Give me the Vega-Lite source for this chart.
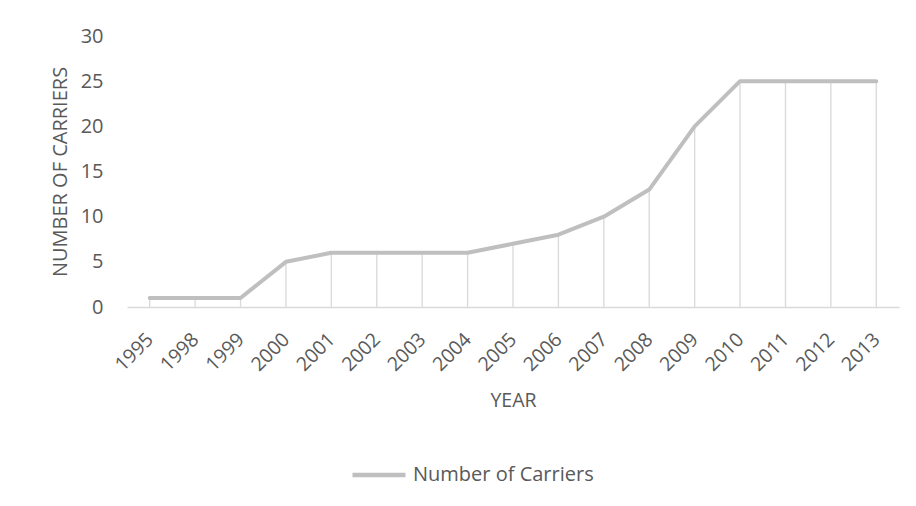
{
  "$schema": "https://vega.github.io/schema/vega-lite/v6.json",
  "autosize": {"type": "none"},
  "width": 772,
  "height": 271,
  "padding": {"left": 127, "top": 36, "right": 17, "bottom": 199},
  "background": "white",
  "config": {"view": {"stroke": null}, "font": "Open Sans"},
  "data": {
    "values": [
      {"year": "1995", "carriers": 1, "series": "Number of Carriers"},
      {"year": "1998", "carriers": 1, "series": "Number of Carriers"},
      {"year": "1999", "carriers": 1, "series": "Number of Carriers"},
      {"year": "2000", "carriers": 5, "series": "Number of Carriers"},
      {"year": "2001", "carriers": 6, "series": "Number of Carriers"},
      {"year": "2002", "carriers": 6, "series": "Number of Carriers"},
      {"year": "2003", "carriers": 6, "series": "Number of Carriers"},
      {"year": "2004", "carriers": 6, "series": "Number of Carriers"},
      {"year": "2005", "carriers": 7, "series": "Number of Carriers"},
      {"year": "2006", "carriers": 8, "series": "Number of Carriers"},
      {"year": "2007", "carriers": 10, "series": "Number of Carriers"},
      {"year": "2008", "carriers": 13, "series": "Number of Carriers"},
      {"year": "2009", "carriers": 20, "series": "Number of Carriers"},
      {"year": "2010", "carriers": 25, "series": "Number of Carriers"},
      {"year": "2011", "carriers": 25, "series": "Number of Carriers"},
      {"year": "2012", "carriers": 25, "series": "Number of Carriers"},
      {"year": "2013", "carriers": 25, "series": "Number of Carriers"}
    ]
  },
  "encoding": {
    "x": {
      "field": "year",
      "type": "ordinal",
      "sort": null,
      "scale": {"type": "point", "padding": 0.5},
      "axis": {
        "title": "YEAR",
        "labelAngle": -45,
        "labelAlign": "right",
        "labelBaseline": "middle",
        "labelPadding": 29,
        "labelFontSize": 19.5,
        "labelColor": "#595959",
        "ticks": false,
        "tickSize": 0,
        "domainColor": "#d9d9d9",
        "domainWidth": 1.5,
        "titleFontSize": 19.5,
        "titleFontWeight": "normal",
        "titleColor": "#595959",
        "titlePadding": 17
      }
    }
  },
  "layer": [
    {
      "mark": {"type": "rule", "color": "#d9d9d9", "strokeWidth": 1.3},
      "encoding": {
        "y": {"field": "carriers", "type": "quantitative"},
        "y2": {"datum": 0}
      }
    },
    {
      "mark": {"type": "line", "strokeWidth": 4, "strokeCap": "round", "strokeJoin": "round"},
      "encoding": {
        "y": {
          "field": "carriers",
          "type": "quantitative",
          "scale": {"domain": [0, 30]},
          "axis": {
            "title": "NUMBER OF CARRIERS",
            "values": [0, 5, 10, 15, 20, 25, 30],
            "grid": false,
            "domain": false,
            "ticks": false,
            "tickSize": 0,
            "labelPadding": 24,
            "labelFontSize": 20,
            "labelColor": "#595959",
            "titleFontSize": 20,
            "titleFontWeight": "normal",
            "titleColor": "#595959",
            "titlePadding": 10
          }
        },
        "color": {
          "field": "series",
          "type": "nominal",
          "scale": {"range": ["#bfbfbf"]},
          "legend": {
            "title": null,
            "orient": "none",
            "legendX": 223,
            "legendY": 410,
            "symbolType": "stroke",
            "symbolSize": 2809,
            "symbolStrokeWidth": 4.5,
            "labelFontSize": 20,
            "labelColor": "#595959",
            "labelOffset": 5,
            "labelLimit": 400
          }
        }
      }
    }
  ]
}
